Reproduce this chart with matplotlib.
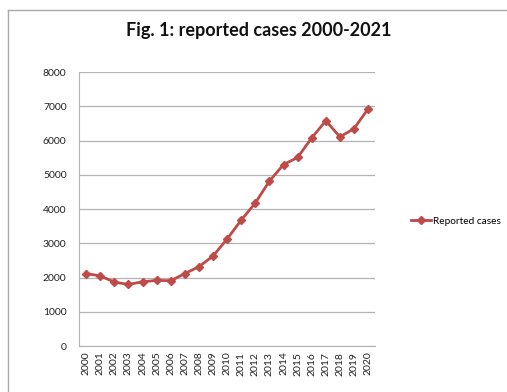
import matplotlib
matplotlib.use("Agg")
import matplotlib.pyplot as plt
from matplotlib.lines import Line2D

years = [str(y) for y in range(2000, 2021)]
cases = [2120, 2050, 1870, 1800, 1880, 1920, 1910, 2120, 2320, 2630,
         3130, 3680, 4180, 4820, 5300, 5510, 6080, 6580, 6110, 6350, 6930]

RED = "#BE4B48"
GRID = "#B3B3B3"

plt.rcParams['font.family'] = ['Lato', 'DejaVu Sans']

fig = plt.figure(figsize=(5.07, 3.92), dpi=100)
ax = fig.add_axes([0.156, 0.117, 0.584, 0.699])

x = list(range(len(years)))
ax.plot(x, cases, color=RED, lw=2, marker="D", ms=4, label="Reported cases")

ax.set_xlim(-0.5, len(years) - 0.5)
ax.set_ylim(0, 8000)
ax.set_yticks(range(0, 8001, 1000))
ax.set_xticks(x)
ax.set_xticklabels(years, rotation=90)
ax.tick_params(axis="both", length=0, labelsize=7.5, colors="#222222")
ax.tick_params(axis="y", pad=9)
ax.tick_params(axis="x", pad=4)
ax.grid(axis="y", color=GRID, lw=0.9)
ax.set_axisbelow(True)
for s in ["top", "right"]:
    ax.spines[s].set_visible(False)
ax.spines["left"].set_color(GRID)
ax.spines["bottom"].set_color(GRID)

fig.text(0.51, 0.923, "Fig. 1: reported cases 2000-2021", ha="center", va="center",
         fontsize=13, fontweight="bold", color="#111111")

ax.legend(loc="center left", bbox_to_anchor=(1.12, 0.456), frameon=False,
          fontsize=7.3, handlelength=2.0, handletextpad=0.15,
          borderpad=0, borderaxespad=0)

# chart border (top and left visible)
fig.add_artist(Line2D([8 / 507, 8 / 507], [0, 1 - 9.5 / 392], color="#AAAAAA", lw=1,
                      transform=fig.transFigure))
fig.add_artist(Line2D([8 / 507, 1], [1 - 9.5 / 392, 1 - 9.5 / 392], color="#AAAAAA", lw=1,
                      transform=fig.transFigure))

fig.savefig("out.png", dpi=100)
